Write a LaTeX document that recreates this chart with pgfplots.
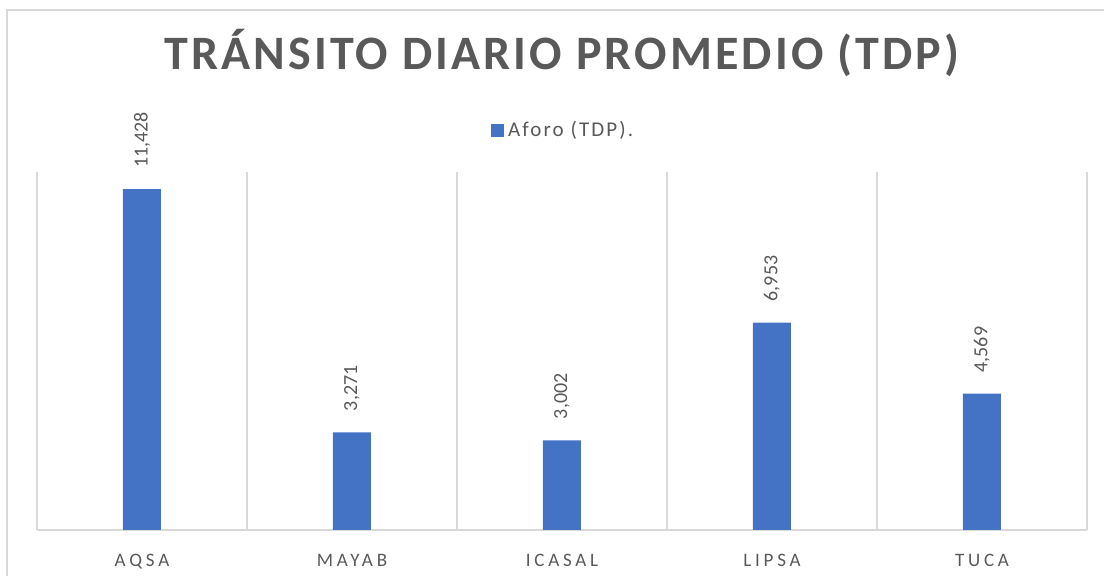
\documentclass[border=0pt]{standalone}
\usepackage{pgfplots}
\pgfplotsset{compat=1.18}
\usepackage{fontspec}
\setmainfont{Carlito}
\newfontfamily\titlefont[LetterSpace=6.5]{Carlito}
\newfontfamily\catfont[LetterSpace=20]{Carlito}
\newfontfamily\legfont[LetterSpace=10]{Carlito}
\definecolor{barblue}{HTML}{4472C4}
\definecolor{txtgray}{HTML}{595959}
\definecolor{gridgray}{HTML}{D9D9D9}
\begin{document}
\begin{tikzpicture}[x=1pt,y=1pt]
\useasboundingbox (0,0) rectangle (552,288);
\draw[gridgray, line width=0.6pt] (3.5,-10) -- (3.5,283) -- (600,283);
\begin{axis}[
  at={(18.5pt,23pt)}, anchor=south west,
  scale only axis, width=525pt, height=179pt,
  ymin=0, ymax=12000, xmin=-0.5, xmax=4.5,
  ybar, bar width=19pt,
  clip=false,
  axis y line=none,
  axis x line*=bottom,
  x axis line style={gridgray, line width=0.6pt},
  ytick=\empty,
  xtick={0,1,2,3,4},
  xticklabels={AQSA,MAYAB,ICASAL,LIPSA,TUCA},
  major tick length=0pt,
  minor xtick={-0.5,0.5,1.5,2.5,3.5,4.5},
  minor tick length=0pt,
  xminorgrids=true,
  minor grid style={gridgray, line width=0.6pt},
  xticklabel style={font={\fontsize{9.5}{11}\catfont}, text=txtgray, anchor=base, yshift=-18.5pt},
  title={\titlefont\bfseries TRÁNSITO DIARIO PROMEDIO (TDP)},
  title style={at={(0.5,1.30)}, anchor=center, font=\fontsize{24}{28}\selectfont, text=txtgray},
  legend style={at={(0.502,1.117)}, anchor=center, draw=none, font={\fontsize{10.5}{12}\legfont}, text=txtgray},
  /pgf/number format/assume math mode=true,
  nodes near coords={\pgfmathprintnumber[1000 sep={,}, assume math mode=true]{\pgfplotspointmeta}},
  every node near coord/.append style={rotate=90, anchor=west, font=\fontsize{10}{12}\selectfont, text=txtgray, inner xsep=10.5pt},
]
\addplot[fill=barblue, draw=none,
  legend image code/.code={\fill[barblue] (0pt,-3.25pt) rectangle (6.5pt,3.25pt);}]
  coordinates {(0,11428) (1,3271) (2,3002) (3,6953) (4,4569)};
\addlegendentry{Aforo (TDP).}
\end{axis}
\end{tikzpicture}
\end{document}
